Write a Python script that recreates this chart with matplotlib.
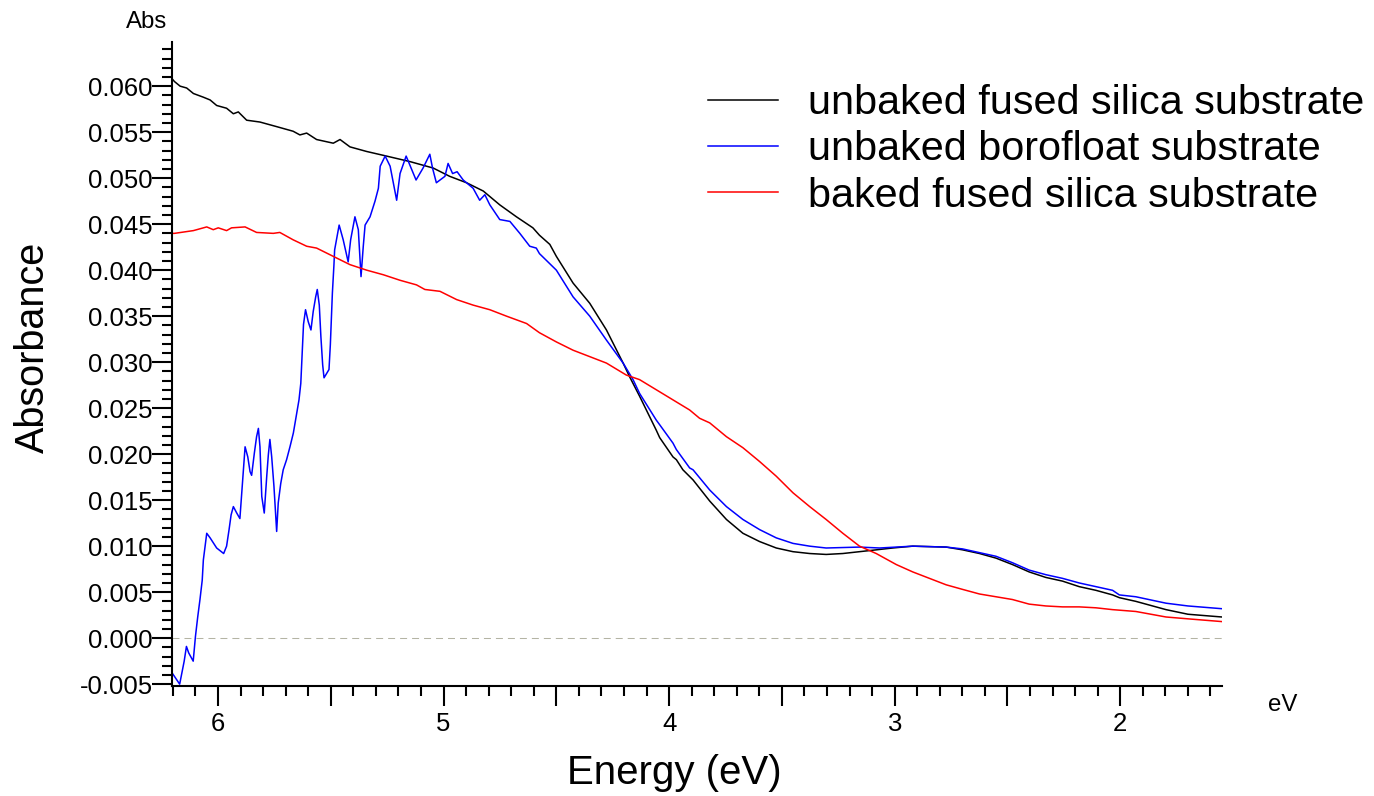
import numpy as np
import matplotlib
matplotlib.use("Agg")
import matplotlib.pyplot as plt
from matplotlib.ticker import FixedLocator, FuncFormatter, MultipleLocator

plt.rcParams['font.family'] = ['Liberation Sans', 'DejaVu Sans']

# === data (energy in eV, absorbance) ===
labels = ["unbaked fused silica substrate",
          "unbaked borofloat substrate",
          "baked fused silica substrate"]
colors = ["#000000", "#0000ff", "#ff0000"]

e_black = [6.200, 6.193, 6.168, 6.139, 6.109, 6.065, 6.035, 6.006, 5.962, 5.932,
           5.910, 5.873, 5.814, 5.740, 5.667, 5.637, 5.607, 5.563, 5.489, 5.459,
           5.415, 5.341, 5.253, 5.149, 5.046, 4.973, 4.898, 4.824, 4.751, 4.677,
           4.604, 4.575, 4.529, 4.500, 4.426, 4.352, 4.278, 4.204, 4.175, 4.131,
           4.057, 4.042, 3.983, 3.968, 3.939, 3.894, 3.820, 3.746, 3.673, 3.599,
           3.525, 3.451, 3.377, 3.304, 3.230, 3.156, 3.082, 3.009, 2.920, 2.772,
           2.699, 2.624, 2.551, 2.478, 2.404, 2.330, 2.256, 2.182, 2.108, 2.034,
           2.004, 1.931, 1.797, 1.700, 1.549]
a_black = [0.0607, 0.0605, 0.0600, 0.0598, 0.0592, 0.0588, 0.0585, 0.0579, 0.0576, 0.0570,
           0.0572, 0.0563, 0.0561, 0.0556, 0.0551, 0.0547, 0.0549, 0.0542, 0.0538, 0.0542,
           0.0534, 0.0529, 0.0524, 0.0518, 0.0511, 0.0502, 0.0495, 0.0486, 0.0471, 0.0458,
           0.0446, 0.0438, 0.0428, 0.0415, 0.0386, 0.0364, 0.0335, 0.0299, 0.0284, 0.0263,
           0.0226, 0.0218, 0.0197, 0.0194, 0.0183, 0.0172, 0.0149, 0.0129, 0.0114, 0.0105,
           0.0098, 0.0094, 0.0092, 0.0091, 0.0092, 0.0094, 0.0096, 0.0098, 0.0100, 0.0099,
           0.0096, 0.0092, 0.0087, 0.0080, 0.0072, 0.0066, 0.0062, 0.0056, 0.0052, 0.0047,
           0.0044, 0.0040, 0.0031, 0.0026, 0.0023]

e_blue = [6.203, 6.170, 6.150, 6.140, 6.130, 6.110, 6.100, 6.090, 6.080, 6.070,
          6.065, 6.050, 6.035, 6.006, 5.975, 5.962, 5.951, 5.942, 5.932, 5.917,
          5.903, 5.892, 5.880, 5.868, 5.858, 5.851, 5.839, 5.829, 5.821, 5.814,
          5.806, 5.795, 5.784, 5.777, 5.770, 5.762, 5.752, 5.744, 5.740, 5.733,
          5.722, 5.711, 5.696, 5.681, 5.666, 5.651, 5.641, 5.633, 5.627, 5.621,
          5.612, 5.600, 5.588, 5.578, 5.567, 5.560, 5.551, 5.544, 5.536, 5.530,
          5.518, 5.508, 5.502, 5.493, 5.486, 5.483, 5.463, 5.445, 5.423, 5.412,
          5.393, 5.378, 5.366, 5.356, 5.348, 5.326, 5.304, 5.289, 5.281, 5.259,
          5.237, 5.208, 5.193, 5.166, 5.149, 5.122, 5.091, 5.061, 5.049, 5.032,
          4.994, 4.980, 4.960, 4.940, 4.913, 4.869, 4.840, 4.817, 4.795, 4.751,
          4.706, 4.662, 4.618, 4.589, 4.575, 4.500, 4.426, 4.352, 4.278, 4.204,
          4.160, 4.131, 4.057, 4.042, 3.983, 3.968, 3.909, 3.894, 3.820, 3.746,
          3.673, 3.599, 3.525, 3.451, 3.377, 3.304, 3.156, 3.067, 2.920, 2.772,
          2.699, 2.624, 2.551, 2.478, 2.404, 2.330, 2.256, 2.182, 2.108, 2.034,
          2.004, 1.931, 1.797, 1.700, 1.549]
a_blue = [-0.0038, -0.0050, -0.0025, -0.0009, -0.0016, -0.0025, 0.0002, 0.0023, 0.0042, 0.0063,
          0.0085, 0.0114, 0.0109, 0.0098, 0.0092, 0.0100, 0.0118, 0.0134, 0.0143, 0.0136,
          0.0130, 0.0168, 0.0208, 0.0197, 0.0181, 0.0177, 0.0201, 0.0219, 0.0228, 0.0208,
          0.0154, 0.0136, 0.0176, 0.0199, 0.0216, 0.0197, 0.0165, 0.0132, 0.0116, 0.0147,
          0.0168, 0.0183, 0.0194, 0.0208, 0.0223, 0.0245, 0.0259, 0.0277, 0.0310, 0.0341,
          0.0357, 0.0344, 0.0335, 0.0355, 0.0371, 0.0379, 0.0362, 0.0328, 0.0297, 0.0283,
          0.0288, 0.0292, 0.0319, 0.0375, 0.0406, 0.0422, 0.0449, 0.0433, 0.0409, 0.0433,
          0.0458, 0.0444, 0.0393, 0.0426, 0.0449, 0.0458, 0.0475, 0.0489, 0.0513, 0.0524,
          0.0513, 0.0476, 0.0505, 0.0524, 0.0514, 0.0498, 0.0511, 0.0526, 0.0511, 0.0495,
          0.0502, 0.0516, 0.0505, 0.0507, 0.0498, 0.0489, 0.0476, 0.0482, 0.0471, 0.0455,
          0.0453, 0.0440, 0.0426, 0.0424, 0.0418, 0.0400, 0.0371, 0.0350, 0.0324, 0.0299,
          0.0281, 0.0266, 0.0237, 0.0232, 0.0212, 0.0205, 0.0185, 0.0183, 0.0161, 0.0143,
          0.0129, 0.0118, 0.0109, 0.0103, 0.0100, 0.0098, 0.0099, 0.0098, 0.0100, 0.0099,
          0.0097, 0.0093, 0.0089, 0.0082, 0.0074, 0.0069, 0.0065, 0.0060, 0.0056, 0.0052,
          0.0047, 0.0045, 0.0038, 0.0035, 0.0032]

e_red = [6.200, 6.193, 6.109, 6.050, 6.021, 5.999, 5.962, 5.940, 5.880, 5.829,
         5.755, 5.726, 5.667, 5.607, 5.563, 5.489, 5.415, 5.341, 5.267, 5.193,
         5.120, 5.083, 5.016, 4.942, 4.869, 4.795, 4.721, 4.632, 4.575, 4.500,
         4.426, 4.352, 4.278, 4.190, 4.131, 4.057, 3.983, 3.909, 3.865, 3.820,
         3.746, 3.673, 3.599, 3.525, 3.451, 3.377, 3.304, 3.230, 3.156, 3.082,
         2.993, 2.920, 2.846, 2.772, 2.699, 2.624, 2.551, 2.478, 2.404, 2.330,
         2.256, 2.182, 2.108, 2.034, 1.931, 1.797, 1.700, 1.549]
a_red = [0.0440, 0.0440, 0.0443, 0.0447, 0.0444, 0.0446, 0.0443, 0.0446, 0.0447, 0.0441,
         0.0440, 0.0441, 0.0433, 0.0426, 0.0424, 0.0415, 0.0406, 0.0400, 0.0395, 0.0389,
         0.0384, 0.0379, 0.0377, 0.0368, 0.0362, 0.0357, 0.0350, 0.0342, 0.0332, 0.0322,
         0.0313, 0.0306, 0.0299, 0.0286, 0.0281, 0.0270, 0.0259, 0.0248, 0.0239, 0.0234,
         0.0219, 0.0207, 0.0192, 0.0176, 0.0158, 0.0143, 0.0129, 0.0114, 0.0100, 0.0092,
         0.0080, 0.0072, 0.0065, 0.0058, 0.0053, 0.0048, 0.0045, 0.0042, 0.0037, 0.0035,
         0.0034, 0.0034, 0.0033, 0.0031, 0.0029, 0.0023, 0.0021, 0.0018]

x_ticks = [6, 5, 4, 3, 2]
y_ticks = np.arange(-0.005, 0.0601, 0.005)

# === figure ===
fig = plt.figure(figsize=(13.74, 7.96), dpi=100)
ax = fig.add_axes([172 / 1374, 110 / 796, 1050 / 1374, 644 / 796])

ax.axhline(0, color="#b4b4a4", lw=0.75, ls=(0, (6.7, 4.8)), zorder=1)

series = [(e_black, a_black), (e_blue, a_blue), (e_red, a_red)]
for (e, a), lab, c in zip(series, labels, colors):
    ax.plot(e, a, color=c, lw=1.1, label=lab, zorder=2)

ax.set_xlim(6.204, 1.549)
ax.set_ylim(-0.0052, 0.0648)

for s in ["top", "right"]:
    ax.spines[s].set_visible(False)
for s in ["left", "bottom"]:
    ax.spines[s].set_linewidth(1.5)

# x ticks: long at integers, medium at .5, short every 0.1
ax.xaxis.set_major_locator(FixedLocator(np.arange(2.0, 6.01, 0.5)))
ax.xaxis.set_major_formatter(FuncFormatter(
    lambda v, p: "%d" % round(v) if abs(v - round(v)) < 1e-6 else ""))
ax.xaxis.set_minor_locator(MultipleLocator(0.1))
ax.tick_params(axis="x", which="major", length=10.8, width=1.5, labelsize=18.5, pad=8)
ax.tick_params(axis="x", which="minor", length=7.2, width=1.5)

# y ticks: long at 0.01, medium at 0.005, short every 0.001
ax.yaxis.set_major_locator(FixedLocator(y_ticks))
ax.yaxis.set_major_formatter(FuncFormatter(lambda v, p: "%.3f" % v))
ax.yaxis.set_minor_locator(MultipleLocator(0.001))
ax.tick_params(axis="y", which="major", length=10.8, width=1.5, labelsize=18.5, pad=3)
ax.tick_params(axis="y", which="minor", length=7.2, width=1.5)

for t in ax.xaxis.get_major_ticks():
    if abs(t.get_loc() - round(t.get_loc())) < 1e-6:
        t.tick1line.set_markersize(14.4)
for t in ax.yaxis.get_major_ticks():
    if abs(t.get_loc() / 0.01 - round(t.get_loc() / 0.01)) < 1e-6:
        t.tick1line.set_markersize(14.4)

ax.set_xlabel("Energy (eV)", fontsize=29)
ax.xaxis.set_label_coords(0.478, -0.106)
ax.set_ylabel("Absorbance", fontsize=28.5)
ax.yaxis.set_label_coords(-0.114, 0.526)

fig.text(147 / 1374, 1 - 28 / 796, "Abs", fontsize=17.3, ha="center", va="baseline")
fig.text(1268 / 1374, 1 - 711 / 796, "eV", fontsize=17.3, ha="left", va="baseline")

ax.legend(loc="upper left", bbox_to_anchor=(708 / 1374, 1 - 84 / 796),
          bbox_transform=fig.transFigure, frameon=False, fontsize=29.8,
          handlelength=1.7, handletextpad=0.72, labelspacing=0.2,
          borderpad=0, borderaxespad=0)

fig.savefig("out.png", dpi=100)
